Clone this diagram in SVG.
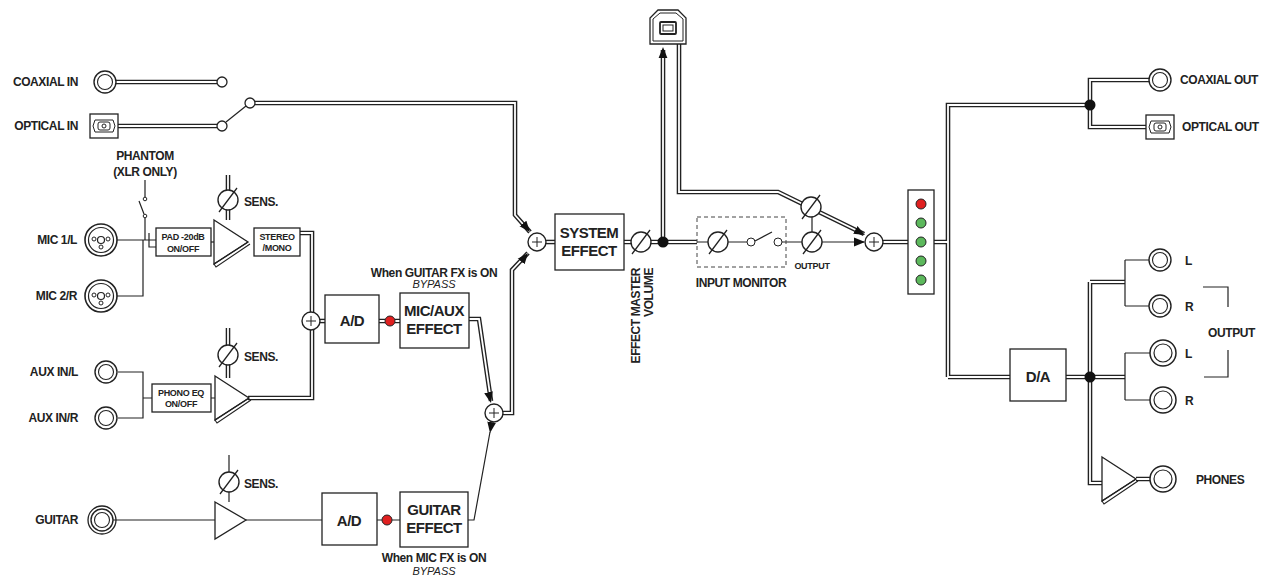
<svg xmlns="http://www.w3.org/2000/svg" xmlns:xlink="http://www.w3.org/1999/xlink" width="1265" height="582" viewBox="0 0 1265 582">
<style>
text{font-family:"Liberation Sans",Arial,sans-serif;font-weight:bold;fill:#222}
.l{font-size:12px;letter-spacing:-0.4px}
.s{font-size:9px;letter-spacing:-0.3px}
.b{font-size:15px;letter-spacing:-0.5px}
.it{font-style:italic;font-weight:normal;font-size:11px}
.o{stroke:#222;stroke-width:4.6;fill:none}
.i{stroke:#fff;stroke-width:1.8;fill:none}
.w{stroke:#222;stroke-width:1.2;fill:none}
.bx{stroke:#222;stroke-width:1.3;fill:#fff}
.ah{stroke:none;fill:none;marker-end:url(#arr)}
</style>
<defs>
<marker id="arr" viewBox="0 0 10 10" refX="10" refY="5" markerWidth="11" markerHeight="11" markerUnits="userSpaceOnUse" orient="auto"><path d="M0,1 L10,5 L0,9 z" fill="#111"/></marker>
<g id="pot"><circle r="10" fill="#fff" stroke="#222" stroke-width="1.4"/><line x1="-9" y1="12" x2="9" y2="-12" stroke="#222" stroke-width="1.3"/></g>
<g id="sum"><circle r="9" fill="#fff" stroke="#222" stroke-width="1.4"/><path d="M-5,0 H5 M0,-5 V5" stroke="#222" stroke-width="1"/></g>
<g id="jack"><circle r="11" fill="#fff" stroke="#222" stroke-width="1.4"/><circle r="7.5" fill="none" stroke="#222" stroke-width="1.1"/></g>
<g id="xlr"><circle r="16" fill="#fff" stroke="#222" stroke-width="1.6"/><circle r="12.5" fill="none" stroke="#222" stroke-width="1.2"/><circle r="3.5" fill="none" stroke="#222" stroke-width="1.2"/><circle cx="-7" cy="-1" r="2" fill="none" stroke="#222"/><circle cx="7" cy="-1" r="2" fill="none" stroke="#222"/><circle cx="0" cy="7" r="2" fill="none" stroke="#222"/></g>
<g id="opt"><rect x="-14" y="-12" width="28" height="24" fill="#fff" stroke="#222" stroke-width="1.3"/><path d="M-9,-6 H9 L11,0 L9,6 H-9 L-11,0 Z" fill="none" stroke="#222"/><rect x="-6" y="-4" width="12" height="8" rx="2" fill="none" stroke="#222"/><circle r="2" fill="none" stroke="#222"/></g>
<g id="amp"><path d="M0,-22 L34,0 L0,22 Z" fill="#fff" stroke="#222" stroke-width="1.3"/><path d="M34,0 L0,22 L2,25 L36,2" fill="none" stroke="#222" stroke-width="1.1"/></g>
<path id="d1" d="M116,82 H217"/>
<path id="d2" d="M118,126 H217"/>
<path id="d3" d="M255,103 H515 V215 L530,232"/>
<path id="d4" d="M228,175 V220"/>
<path id="d5" d="M228,328 V378"/>
<path id="d6" d="M300,233 H312 V398 H248"/>
<path id="d7" d="M320,321 H325"/>
<path id="d8" d="M379,321 H385 M395,321 H400"/>
<path id="d9" d="M469,319 H479 L491,401"/>
<path id="d10" d="M503,413 H512 V270 L528,253"/>
<path id="d11" d="M546,242 H555"/>
<path id="d12" d="M624,242 H631 M651,242 H697"/>
<path id="d13" d="M663,242 V50"/>
<path id="d14" d="M679,44 V192 H778 L864,234"/>
<path id="d15" d="M883,242 H908 M934,242 H948"/>
<path id="d16" d="M948,377 V105 H1090 M1090,105 V80 H1149 M1090,105 V127 H1146"/>
<path id="d17" d="M948,377 H1010 M1066,377 H1090 M1090,282 V483 H1102 M1090,282 H1125 M1090,377 H1125 M1136,479 H1150"/>
</defs>

<g id="connectors">
<use href="#d1" class="o"/><use href="#d2" class="o"/><use href="#d3" class="o"/><use href="#d4" class="o"/><use href="#d5" class="o"/><use href="#d6" class="o"/><use href="#d7" class="o"/><use href="#d8" class="o"/><use href="#d9" class="o"/><use href="#d10" class="o"/><use href="#d11" class="o"/><use href="#d12" class="o"/><use href="#d13" class="o"/><use href="#d14" class="o"/><use href="#d15" class="o"/><use href="#d16" class="o"/><use href="#d17" class="o"/>
<use href="#d1" class="i"/><use href="#d2" class="i"/><use href="#d3" class="i"/><use href="#d4" class="i"/><use href="#d5" class="i"/><use href="#d6" class="i"/><use href="#d7" class="i"/><use href="#d8" class="i"/><use href="#d9" class="i"/><use href="#d10" class="i"/><use href="#d11" class="i"/><use href="#d12" class="i"/><use href="#d13" class="i"/><use href="#d14" class="i"/><use href="#d15" class="i"/><use href="#d16" class="i"/><use href="#d17" class="i"/>
<path class="w" d="M226,122 L246,106"/>
<path class="w" d="M145,180 V197 M139,201 L144,214 M145,218 V240 M116,240 H156 M116,296 H143 V240 M149,233 V247 H156"/>
<path class="w" d="M118,372 H143 V418 H118 M143,398 H152 M211,398 H215"/>
<path class="w" d="M229,455 V502 M113,520 H215 M246,520 H322 M377,520 H382 M392,520 H400 M468,520 H474 L490,432"/>
<path class="w" d="M211,242 H214"/>
<path class="w" d="M697,242 H708 M728,242 H747 M755,241 L772,232 M782,242 H802 M822,242 H864 M812,216 V232"/>
<path class="w" d="M1125,260 V306 M1125,260 H1149 M1125,306 H1149 M1125,353 V400 M1125,353 H1150 M1125,400 H1150"/>
<path class="w" d="M1203,287 H1228 V307 M1228,350 V377 H1204"/>
<path class="ah" d="M520,220 L530,232"/>
<path class="ah" d="M520,263 L528,253"/>
<path class="ah" d="M488,390 L491,403"/>
<path class="ah" d="M492,420 L490,433"/>
<path class="ah" d="M663,60 V47"/>
<path class="ah" d="M852,228 L865,235"/>
<path class="ah" d="M852,242 H865"/>
</g>

<g id="coaxial-in"><text class="l" x="78" y="86" text-anchor="end">COAXIAL IN</text><use href="#jack" x="105" y="82"/><circle cx="222" cy="82" r="5" fill="#fff" stroke="#222" stroke-width="1.3"/></g>
<g id="optical-in"><text class="l" x="78" y="130" text-anchor="end">OPTICAL IN</text><use href="#opt" x="104" y="126"/><circle cx="222" cy="126" r="5" fill="#fff" stroke="#222" stroke-width="1.3"/><circle cx="250" cy="103" r="5" fill="#fff" stroke="#222" stroke-width="1.3"/></g>
<g id="phantom"><text class="l" x="145" y="160" text-anchor="middle">PHANTOM</text><text class="l" x="145" y="176" text-anchor="middle">(XLR ONLY)</text><circle cx="145" cy="199" r="1.8" fill="#fff" stroke="#222"/><circle cx="145" cy="216" r="1.8" fill="#fff" stroke="#222"/></g>
<g id="mic1"><text class="l" x="77" y="244" text-anchor="end">MIC 1/L</text><use href="#xlr" x="101" y="240"/></g>
<g id="mic2"><text class="l" x="77" y="300" text-anchor="end">MIC 2/R</text><use href="#xlr" x="101" y="296"/></g>
<g id="pad"><rect class="bx" x="156" y="228" width="55" height="28"/><text class="s" x="183" y="240" text-anchor="middle">PAD -20dB</text><text class="s" x="183" y="252" text-anchor="middle" font-size="8">ON/OFF</text></g>
<g id="mic-amp"><use href="#amp" x="214" y="242"/><use href="#pot" x="228" y="200"/><text class="l" x="244" y="206">SENS.</text></g>
<g id="stereo-mono"><rect class="bx" x="254" y="228" width="46" height="28"/><text class="s" x="277" y="240" text-anchor="middle">STEREO</text><text class="s" x="277" y="251" text-anchor="middle">/MONO</text></g>
<g id="aux-l"><text class="l" x="78" y="376" text-anchor="end">AUX IN/L</text><use href="#jack" x="106" y="372"/></g>
<g id="aux-r"><text class="l" x="78" y="422" text-anchor="end">AUX IN/R</text><use href="#jack" x="106" y="418"/></g>
<g id="phono"><rect class="bx" x="152" y="384" width="59" height="28"/><text class="s" x="181" y="396" text-anchor="middle">PHONO EQ</text><text class="s" x="181" y="407" text-anchor="middle" font-size="8">ON/OFF</text></g>
<g id="aux-amp"><use href="#amp" x="215" y="398"/><use href="#pot" x="228" y="355"/><text class="l" x="244" y="361">SENS.</text></g>
<g id="guitar"><text class="l" x="78" y="524" text-anchor="end">GUITAR</text><use href="#jack" x="102" y="520"/><circle cx="102" cy="520" r="14" fill="none" stroke="#222" stroke-width="1.3"/></g>
<g id="guitar-amp"><path d="M215,502 L246,520 L215,539 Z" fill="#fff" stroke="#222" stroke-width="1.3"/><use href="#pot" x="229" y="482"/><text class="l" x="244" y="488">SENS.</text></g>
<g id="sum-mic"><use href="#sum" x="311" y="321"/></g>
<g id="ad1"><rect class="bx" x="325" y="295" width="54" height="48"/><text class="b" x="352" y="326" text-anchor="middle">A/D</text><circle cx="390" cy="321" r="5" fill="#e02020" stroke="#222"/></g>
<g id="mic-aux-effect"><rect class="bx" x="400" y="293" width="69" height="55"/><text class="b" x="434" y="316" text-anchor="middle">MIC/AUX</text><text class="b" x="434" y="334" text-anchor="middle">EFFECT</text><text class="l" x="434" y="277" text-anchor="middle">When GUITAR FX is ON</text><text class="it" x="434" y="288" text-anchor="middle">BYPASS</text></g>
<g id="ad2"><rect class="bx" x="322" y="493" width="55" height="52"/><text class="b" x="349" y="526" text-anchor="middle">A/D</text><circle cx="387" cy="520" r="5" fill="#e02020" stroke="#222"/></g>
<g id="guitar-effect"><rect class="bx" x="400" y="492" width="68" height="55"/><text class="b" x="434" y="515" text-anchor="middle">GUITAR</text><text class="b" x="434" y="533" text-anchor="middle">EFFECT</text><text class="l" x="434" y="562" text-anchor="middle">When MIC FX is ON</text><text class="it" x="434" y="575" text-anchor="middle">BYPASS</text></g>
<g id="sum-fx"><use href="#sum" x="494" y="413"/></g>
<g id="sum-sys"><use href="#sum" x="537" y="242"/></g>
<g id="system-effect"><rect class="bx" x="555" y="214" width="69" height="56"/><text class="b" x="589" y="238" text-anchor="middle">SYSTEM</text><text class="b" x="589" y="256" text-anchor="middle">EFFECT</text></g>
<g id="master-volume"><use href="#pot" x="641" y="242"/><text class="l" transform="translate(640,268) rotate(-90)" text-anchor="end">EFFECT MASTER</text><text class="l" transform="translate(653,268) rotate(-90)" text-anchor="end">VOLUME</text></g>
<g id="junction1"><circle cx="663" cy="242" r="5.5" fill="#111"/></g>
<g id="usb"><path d="M650,44 V18 L658,10 H678 L686,18 V44 Z" fill="#fff" stroke="#222" stroke-width="1.3"/><path d="M653,41 V19 L660,13 H676 L683,19 V41 Z" fill="none" stroke="#222"/><rect x="660" y="22" width="16" height="12" rx="1" fill="none" stroke="#222" stroke-width="1.8"/><rect x="663" y="25" width="10" height="6" fill="none" stroke="#222"/></g>
<g id="input-monitor"><rect x="697" y="217" width="89" height="50" fill="none" stroke="#444" stroke-dasharray="4,3"/><use href="#pot" x="718" y="242"/><circle cx="751" cy="242" r="4" fill="#fff" stroke="#222"/><circle cx="778" cy="242" r="4" fill="#fff" stroke="#222"/><text class="l" x="741" y="287" text-anchor="middle">INPUT MONITOR</text></g>
<g id="output-vol"><use href="#pot" x="811" y="207"/><use href="#pot" x="812" y="242"/><text class="s" x="812" y="269" text-anchor="middle">OUTPUT</text></g>
<g id="sum-out"><use href="#sum" x="874" y="242"/></g>
<g id="meter"><rect class="bx" x="908" y="190" width="26" height="104"/><circle cx="921" cy="204" r="5" fill="#e02020" stroke="#222"/><circle cx="921" cy="223" r="5" fill="#5cb85c" stroke="#222"/><circle cx="921" cy="242" r="5" fill="#5cb85c" stroke="#222"/><circle cx="921" cy="261" r="5" fill="#5cb85c" stroke="#222"/><circle cx="921" cy="280" r="5" fill="#5cb85c" stroke="#222"/></g>
<g id="junction2"><circle cx="1090" cy="105" r="5.5" fill="#111"/></g>
<g id="coaxial-out"><use href="#jack" x="1160" y="80"/><text class="l" x="1180" y="84">COAXIAL OUT</text></g>
<g id="optical-out"><use href="#opt" x="1160" y="127"/><text class="l" x="1182" y="131">OPTICAL OUT</text></g>
<g id="da"><rect class="bx" x="1010" y="349" width="56" height="52"/><text class="b" x="1038" y="382" text-anchor="middle">D/A</text></g>
<g id="junction3"><circle cx="1090" cy="377" r="5.5" fill="#111"/></g>
<g id="out1-l"><use href="#jack" x="1160" y="260"/><text class="l" x="1185" y="265">L</text></g>
<g id="out1-r"><use href="#jack" x="1160" y="306"/><text class="l" x="1185" y="311">R</text></g>
<g id="out2-l"><circle cx="1163" cy="353" r="13" fill="#fff" stroke="#222" stroke-width="1.5"/><circle cx="1163" cy="353" r="9" fill="none" stroke="#222" stroke-width="1.2"/><text class="l" x="1185" y="358">L</text></g>
<g id="out2-r"><circle cx="1163" cy="400" r="13" fill="#fff" stroke="#222" stroke-width="1.5"/><circle cx="1163" cy="400" r="9" fill="none" stroke="#222" stroke-width="1.2"/><text class="l" x="1185" y="405">R</text></g>
<g id="output-label"><text class="l" x="1208" y="337">OUTPUT</text></g>
<g id="phones"><use href="#amp" x="1102" y="479"/><circle cx="1163" cy="479" r="13" fill="#fff" stroke="#222" stroke-width="1.5"/><circle cx="1163" cy="479" r="9" fill="none" stroke="#222" stroke-width="1.2"/><text class="l" x="1196" y="484">PHONES</text></g>
</svg>
